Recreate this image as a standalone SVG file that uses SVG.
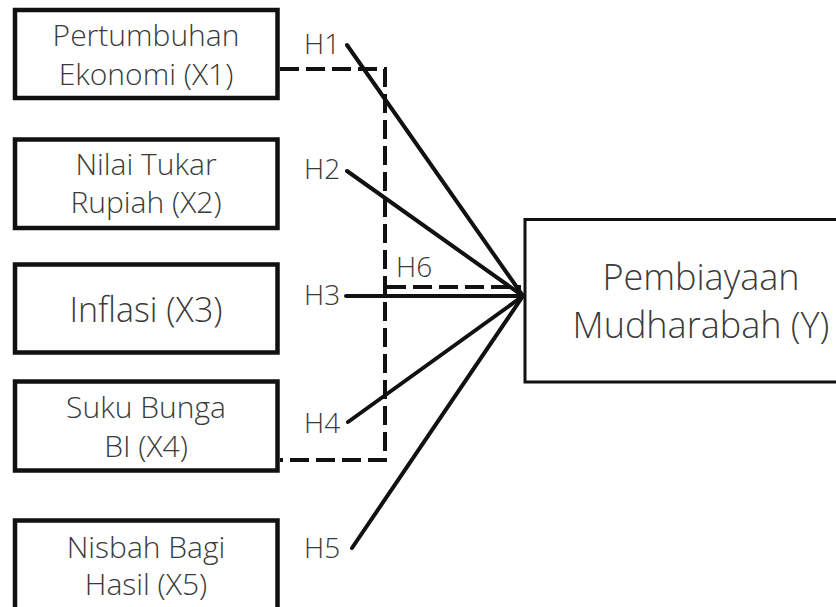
<svg xmlns="http://www.w3.org/2000/svg" width="836" height="607" viewBox="0 0 836 607">
<style>
.box{fill:#fff;stroke:#111;stroke-width:4.5}
.ybox{fill:#fff;stroke:#111;stroke-width:3}
.t{font-family:"Open Sans","Liberation Sans",sans-serif;font-weight:300;fill:#3a3a3a;text-anchor:middle}
.h{font-family:"Open Sans","Liberation Sans",sans-serif;font-weight:300;fill:#3a3a3a;font-size:28px}
.solid{stroke:#111;stroke-width:4;fill:none;stroke-linecap:round}
.dash{stroke:#111;stroke-width:4;fill:none;stroke-dasharray:19 7}
</style>
<rect width="836" height="607" fill="#fff"/>
<g id="connectors">
<path class="dash" d="M280 69 H385 V460 H280"/>
<path class="dash" d="M387 287 H521"/>
<line class="solid" x1="347" y1="45" x2="523" y2="296"/>
<line class="solid" x1="347" y1="171" x2="523" y2="296"/>
<line class="solid" x1="346" y1="296" x2="523" y2="296"/>
<line class="solid" x1="348" y1="422" x2="523" y2="296"/>
<line class="solid" x1="352" y1="548" x2="523" y2="296"/>
<text class="h" x="304" y="54">H1</text>
<text class="h" x="304" y="179">H2</text>
<text class="h" x="304" y="305">H3</text>
<text class="h" x="304" y="433">H4</text>
<text class="h" x="304" y="558">H5</text>
<text class="h" x="396" y="277">H6</text>
</g>
<g id="x1">
<rect class="box" x="15" y="10" width="262.5" height="88"/>
<text class="t" x="146" y="46" font-size="30">Pertumbuhan</text>
<text class="t" x="146" y="85" font-size="30">Ekonomi (X1)</text>
</g>
<g id="x2">
<rect class="box" x="15" y="139.5" width="262.5" height="88.5"/>
<text class="t" x="146" y="175" font-size="30">Nilai Tukar</text>
<text class="t" x="146" y="213" font-size="30">Rupiah (X2)</text>
</g>
<g id="x3">
<rect class="box" x="15" y="264.5" width="262.5" height="88"/>
<text class="t" x="146" y="322" font-size="34">Inflasi (X3)</text>
</g>
<g id="x4">
<rect class="box" x="15" y="381.5" width="262.5" height="89"/>
<text class="t" x="146" y="418" font-size="30">Suku Bunga</text>
<text class="t" x="146" y="457" font-size="30">BI (X4)</text>
</g>
<g id="x5">
<rect class="box" x="15" y="520.5" width="262.5" height="95"/>
<text class="t" x="146" y="558" font-size="30">Nisbah Bagi</text>
<text class="t" x="146" y="595" font-size="30">Hasil (X5)</text>
</g>
<g id="y">
<rect class="ybox" x="525" y="219.5" width="330" height="162.5"/>
<text class="t" x="701" y="290" font-size="36">Pembiayaan</text>
<text class="t" x="701" y="338" font-size="36">Mudharabah (Y)</text>
</g>
</svg>
